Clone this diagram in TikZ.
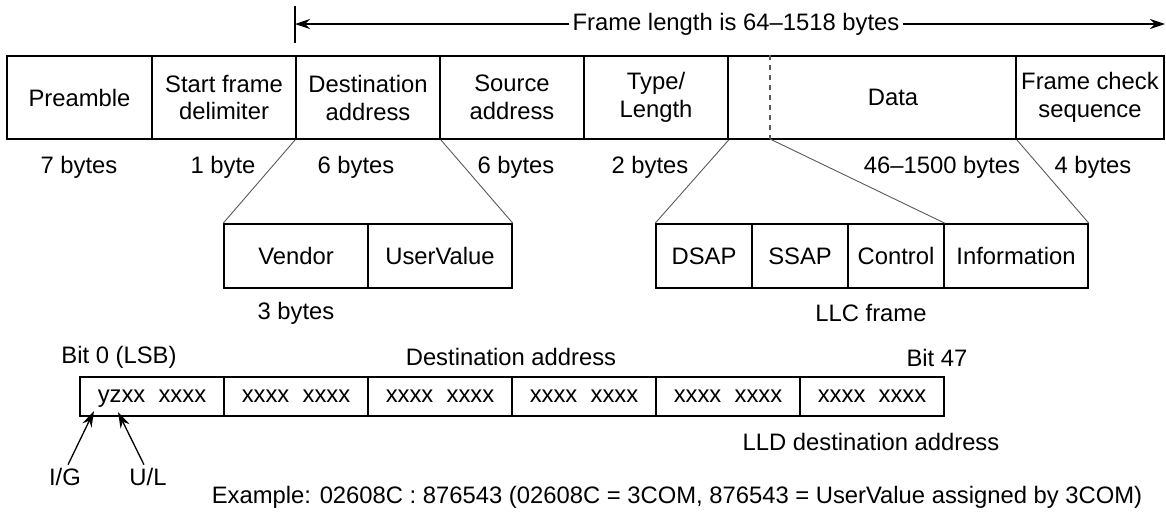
\documentclass[tikz,border=0pt]{standalone}
\usepackage{fontspec}
\setmainfont{Liberation Sans}
\usetikzlibrary{arrows.meta}

\begin{document}
\begin{tikzpicture}[x=1pt,y=-1pt,
  font=\fontsize{23.8}{28}\selectfont,
  cell/.style={draw,line width=1.6pt,inner sep=0pt,align=center},
  fld/.style={cell,minimum height=83pt},
  sub/.style={cell,minimum height=64pt},
  bits/.style={cell,minimum width=144pt,minimum height=39pt,text height=17pt,text depth=5pt},
  fan/.style={draw=black!65,line width=0.9pt},
  cutline/.style={draw=black!65,line width=1.2pt,dash pattern=on 5pt off 5pt},
  ptr/.style={-{Stealth[length=16pt,width=10pt]},line width=1.3pt},
  span/.style={-{Stealth[length=15pt,width=10pt]},line width=1.3pt}]
  \useasboundingbox (0,0) rectangle (1166,512);

  % overall length
  \draw[line width=1.6pt] (295,6) -- (295,43);
  \node (flen) at (736,24) {Frame length is 64--1518 bytes};
  \coordinate (lend) at (295,24);
  \coordinate (rend) at (1165,24);
  \draw[span] (flen.west) -- (lend);
  \draw[span] (flen.east) -- (rend);

  % frame fields
  \node[fld,minimum width=145pt] (pre) at (79.5,97.5) {Preamble};
  \node[fld,minimum width=144pt] (sfd) at (224,97.5) {Start frame\\delimiter};
  \node[fld,minimum width=144pt] (dst) at (368,97.5) {Destination\\address};
  \node[fld,minimum width=144pt] (src) at (512,97.5) {Source\\address};
  \node[fld,minimum width=144pt] (typ) at (656,97.5) {Type/\\Length};
  \node[fld,minimum width=288pt] (data) at (872,97.5) {};
  \node[fld,minimum width=148pt] (fcs) at (1090,97.5) {Frame check\\sequence};
  \node (datatxt) at (893,97.5) {Data};
  \coordinate (cut) at (770,139);
  \draw[cutline] (cut |- data.north) -- (cut);

  % field sizes
  \node (s1) at (79,167) {7 bytes};
  \node (s2) at (223,167) {1 byte};
  \node (s3) at (356,167) {6 bytes};
  \node (s4) at (516,167) {6 bytes};
  \node (s5) at (650,167) {2 bytes};
  \node (s6) at (942,167) {46--1500 bytes};
  \node (s7) at (1093,167) {4 bytes};

  % address split
  \node[sub,minimum width=144pt] (vend) at (296,256) {Vendor};
  \node[sub,minimum width=144pt] (uval) at (440,256) {UserValue};
  \node (vlen) at (296,313) {3 bytes};
  \draw[fan] (dst.south west) -- (vend.north west);
  \draw[fan] (dst.south east) -- (uval.north east);

  % LLC frame
  \node[sub,minimum width=96pt] (dsap) at (704,256) {DSAP};
  \node[sub,minimum width=96pt] (ssap) at (800,256) {SSAP};
  \node[sub,minimum width=96pt] (ctl) at (896,256) {Control};
  \node[sub,minimum width=144pt] (info) at (1016,256) {Information};
  \node (llc) at (871,313) {LLC frame};
  \draw[fan] (typ.south east) -- (dsap.north west);
  \draw[fan] (cut) -- (ctl.north east);
  \draw[fan] (data.south east) -- (info.north east);

  % destination address bits
  \node (lsb) at (119,357) {Bit 0 (LSB)};
  \node (dlab) at (511,357) {Destination address};
  \node (msb) at (937,358) {Bit 47};
  \node[bits] (b0) at (152,396.5) {yzxx~~xxxx};
  \node[bits] (b1) at (296,396.5) {xxxx~~xxxx};
  \node[bits] (b2) at (440,396.5) {xxxx~~xxxx};
  \node[bits] (b3) at (584,396.5) {xxxx~~xxxx};
  \node[bits] (b4) at (728,396.5) {xxxx~~xxxx};
  \node[bits] (b5) at (872,396.5) {xxxx~~xxxx};
  \node (lld) at (871,442) {LLD destination address};

  \node (ig) at (65,477) {I/G};
  \node (ul) at (148,477) {U/L};
  \coordinate (ybit) at (94,411);
  \coordinate (zbit) at (118,412);
  \draw[ptr] ([xshift=3pt]ig.north) -- (ybit);
  \draw[ptr] ([xshift=-4pt]ul.north) -- (zbit);

  \node (ex) at (677,497) {Example: 02608C : 876543 (02608C = 3COM, 876543 = UserValue assigned by 3COM)};
\end{tikzpicture}
\end{document}
